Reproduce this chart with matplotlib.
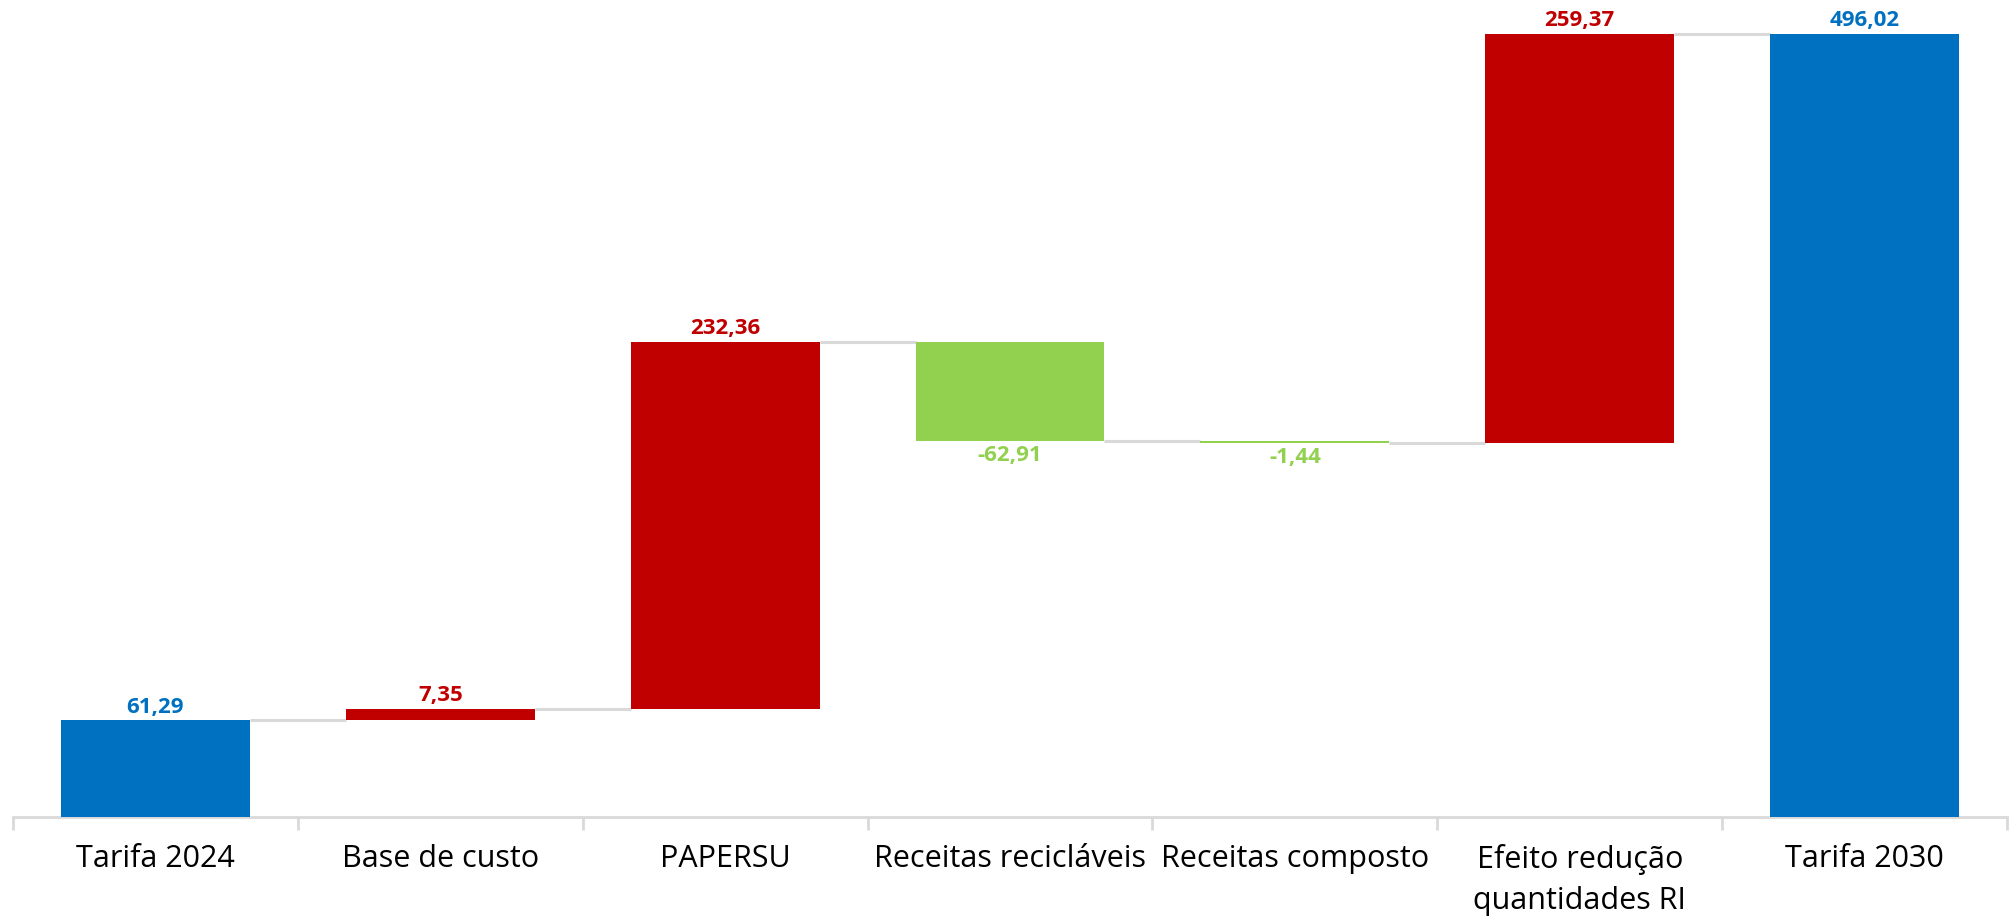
import matplotlib
matplotlib.use("Agg")
import matplotlib.pyplot as plt
import numpy as np

categories = ["Tarifa 2024", "Base de custo", "PAPERSU", "Receitas recicláveis",
              "Receitas composto", "Efeito redução\nquantidades RI", "Tarifa 2030"]
values = [61.29, 7.35, 232.36, -62.91, -1.44, 259.37, 496.02]
kinds = ["total", "delta", "delta", "delta", "delta", "delta", "total"]
labels = ["61,29", "7,35", "232,36", "-62,91", "-1,44", "259,37", "496,02"]

BLUE = "#0070C0"
RED = "#C00000"
GREEN = "#92D050"
GRID = "#D9D9D9"

plt.rcParams['font.family'] = ['Open Sans', 'DejaVu Sans']

fig = plt.figure(figsize=(20.15, 9.2), dpi=100)
ax = fig.add_axes([13/2015, 1 - 818/920, (2007-13)/2015, 818/920])

width = 0.663
x = np.arange(len(categories))
bottoms, heights, colors, levels = [], [], [], []
running = 0.0
for v, k in zip(values, kinds):
    if k == "total":
        bottoms.append(0.0)
        heights.append(v)
        colors.append(BLUE)
        running = v
    else:
        start = running
        running = running + v
        bottoms.append(min(start, running))
        heights.append(abs(v))
        colors.append(RED if v > 0 else GREEN)
    levels.append(running)

ax.bar(x, heights, bottom=bottoms, width=width, color=colors, edgecolor='none', zorder=3)

# connectors
for i in range(len(x) - 1):
    ax.plot([x[i] + width/2, x[i+1] - width/2], [levels[i], levels[i]],
            color=GRID, lw=2.2, zorder=2, solid_capstyle='butt')

# value labels
for i, (v, k, lab, c) in enumerate(zip(values, kinds, labels, colors)):
    if v >= 0:
        y = bottoms[i] + heights[i]
        ax.annotate(lab, (x[i], y), xytext=(0, 2.5), textcoords='offset points',
                    ha='center', va='bottom', color=c, fontsize=16, fontweight='bold')
    else:
        y = bottoms[i]
        ax.annotate(lab, (x[i], y), xytext=(0, -2), textcoords='offset points',
                    ha='center', va='top', color=c, fontsize=16, fontweight='bold')

ax.set_xlim(-0.5, len(x) - 0.5)
ax.set_ylim(0, 518)

for s in ['top', 'right', 'left']:
    ax.spines[s].set_visible(False)
ax.spines['bottom'].set_color(GRID)
ax.spines['bottom'].set_linewidth(2)
ax.set_yticks([])

ax.set_xticks(x)
ax.set_xticklabels(categories, fontsize=22, color='black', linespacing=1.45)
ax.tick_params(axis='x', which='major', length=0, pad=19)
ax.set_xticks(np.arange(-0.5, len(x)), minor=True)
ax.tick_params(axis='x', which='minor', length=9, width=2, color=GRID)

fig.savefig("out.png", dpi=100, facecolor='white')
